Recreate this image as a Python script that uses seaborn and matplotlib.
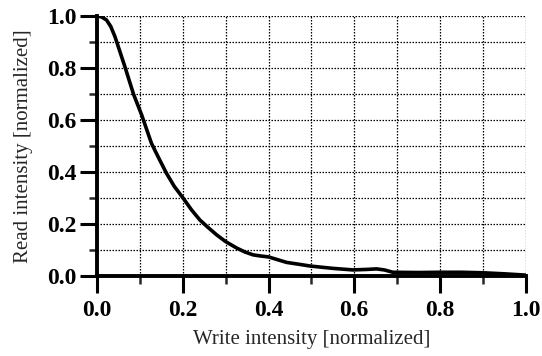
import numpy as np
import pandas as pd
import seaborn as sns
import matplotlib.pyplot as plt
from matplotlib.ticker import MultipleLocator, FormatStrFormatter

# values
write_int = [0.0, 0.01, 0.022, 0.032, 0.042, 0.053, 0.065, 0.085, 0.104, 0.127,
             0.145, 0.162, 0.18, 0.201, 0.22, 0.24, 0.26, 0.279, 0.30, 0.326,
             0.345, 0.364, 0.38, 0.40, 0.42, 0.442, 0.47, 0.497, 0.55, 0.597,
             0.63, 0.652, 0.67, 0.69, 0.75, 0.8, 0.85, 0.9, 0.95, 1.0]
read_int = [1.0, 0.997, 0.985, 0.96, 0.92, 0.865, 0.805, 0.70, 0.62, 0.51,
            0.45, 0.395, 0.345, 0.299, 0.255, 0.215, 0.185, 0.158, 0.132, 0.107,
            0.092, 0.081, 0.077, 0.073, 0.063, 0.052, 0.045, 0.038, 0.029, 0.023,
            0.025, 0.027, 0.023, 0.014, 0.013, 0.014, 0.014, 0.012, 0.008, 0.003]

x_label = "Write intensity [normalized]"
y_label = "Read intensity [normalized]"

df = pd.DataFrame({"write": write_int, "read": read_int})

sns.set_style("ticks")
plt.rcParams["font.family"] = ["Liberation Serif", "DejaVu Serif"]

fig = plt.figure(figsize=(5.42, 3.56), dpi=100)
ax = fig.add_axes([0.179, 0.225, 0.791, 0.730])

sns.lineplot(data=df, x="write", y="read", ax=ax, color="black", lw=2.6)

ax.set_xlim(0, 1.0)
ax.set_ylim(0, 1.0)
ax.xaxis.set_major_locator(MultipleLocator(0.2))
ax.xaxis.set_minor_locator(MultipleLocator(0.1))
ax.yaxis.set_major_locator(MultipleLocator(0.2))
ax.yaxis.set_minor_locator(MultipleLocator(0.1))
ax.xaxis.set_major_formatter(FormatStrFormatter("%.1f"))
ax.yaxis.set_major_formatter(FormatStrFormatter("%.1f"))

ax.grid(which="both", color="black", ls=(0, (1.2, 1.2)), lw=0.9)
ax.tick_params(which="major", length=12, width=2.2, labelsize=17, direction="out",
               pad=3, colors="black")
ax.tick_params(axis="x", which="major", pad=5)
ax.tick_params(which="minor", length=6, width=1.8, direction="out")

sns.despine(ax=ax)
for side in ["left", "bottom"]:
    ax.spines[side].set_linewidth(2.8)
    ax.spines[side].set_color("black")

ax.set_xlabel(x_label, fontsize=15, labelpad=7)
ax.set_ylabel(y_label, fontsize=15, labelpad=10)
for lab in ax.get_xticklabels() + ax.get_yticklabels():
    lab.set_fontweight("bold")

fig.savefig("out.png", dpi=100)
